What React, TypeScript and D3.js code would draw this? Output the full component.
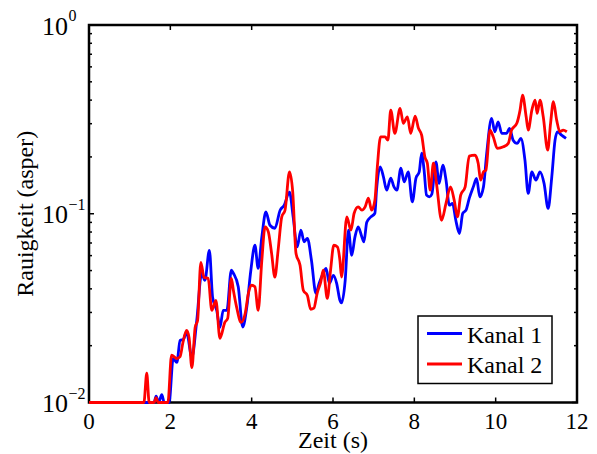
import React from "react";
import * as d3 from "d3";

// Zeit (s), Rauigkeit (asper)
const kanal1: [number, number][] = [
  [0, 0.01], [1.6, 0.01], [1.65, 0.0108], [1.71, 0.01], [1.79, 0.011], [1.85, 0.01], [1.97, 0.01],
  [2.07, 0.0171], [2.16, 0.0163], [2.24, 0.0213], [2.32, 0.0216], [2.4, 0.0235], [2.53, 0.0174],
  [2.65, 0.0272], [2.77, 0.0484], [2.85, 0.0444], [2.96, 0.064], [3.04, 0.036], [3.14, 0.0308],
  [3.22, 0.025], [3.3, 0.0308], [3.39, 0.0308], [3.5, 0.0502], [3.55, 0.0484], [3.67, 0.041],
  [3.78, 0.0251], [3.88, 0.032], [3.98, 0.0502], [4.08, 0.0681], [4.16, 0.0514], [4.25, 0.0754],
  [4.35, 0.1023], [4.45, 0.0869], [4.57, 0.0838], [4.7, 0.1044], [4.8, 0.111], [4.93, 0.1301],
  [5.02, 0.0962], [5.12, 0.0667], [5.21, 0.0818], [5.29, 0.071], [5.37, 0.0741], [5.47, 0.0567],
  [5.58, 0.0379], [5.66, 0.0428], [5.76, 0.0484], [5.83, 0.0514], [5.91, 0.0428], [6.01, 0.0472],
  [6.09, 0.0428], [6.17, 0.0348], [6.21, 0.0337], [6.3, 0.0444], [6.38, 0.0818], [6.46, 0.0602],
  [6.54, 0.0754], [6.62, 0.0852], [6.71, 0.0754], [6.76, 0.071], [6.83, 0.0902], [6.93, 0.0962],
  [7.03, 0.1006], [7.07, 0.1333], [7.16, 0.1772], [7.24, 0.1569], [7.32, 0.1333], [7.42, 0.1544],
  [7.5, 0.1388], [7.57, 0.1333], [7.67, 0.1744], [7.75, 0.1476], [7.85, 0.1667], [7.95, 0.1156],
  [8.04, 0.1544], [8.12, 0.1667], [8.18, 0.2094], [8.24, 0.1701], [8.3, 0.1254], [8.37, 0.1229],
  [8.43, 0.1269], [8.53, 0.1884], [8.61, 0.1448], [8.7, 0.1809], [8.78, 0.1506], [8.86, 0.111],
  [8.94, 0.1134], [9.02, 0.0924], [9.11, 0.0786], [9.19, 0.1004], [9.27, 0.1044], [9.35, 0.1205],
  [9.45, 0.1388], [9.53, 0.1539], [9.61, 0.1229], [9.7, 0.1388], [9.78, 0.2094], [9.9, 0.3201],
  [9.98, 0.2718], [10.06, 0.307], [10.15, 0.2666], [10.27, 0.2666], [10.34, 0.2834], [10.43, 0.2454],
  [10.53, 0.236], [10.62, 0.2508], [10.72, 0.1922], [10.8, 0.1281], [10.89, 0.1667], [10.99, 0.1506],
  [11.09, 0.1667], [11.19, 0.1448], [11.29, 0.1067], [11.38, 0.1569], [11.46, 0.2454], [11.52, 0.2718],
  [11.62, 0.2609], [11.73, 0.2508],
];

const kanal2: [number, number][] = [
  [0, 0.01], [1.35, 0.01], [1.42, 0.0143], [1.48, 0.01], [1.6, 0.01], [1.65, 0.0106], [1.7, 0.01],
  [1.94, 0.01], [2.03, 0.0178], [2.16, 0.0171], [2.24, 0.0175], [2.31, 0.0208], [2.4, 0.0241],
  [2.46, 0.0221], [2.53, 0.0153], [2.61, 0.025], [2.67, 0.0272], [2.75, 0.0553], [2.83, 0.046],
  [2.93, 0.0455], [3.02, 0.0308], [3.12, 0.0348], [3.22, 0.0219], [3.34, 0.0266], [3.41, 0.0279],
  [3.5, 0.0455], [3.55, 0.0393], [3.63, 0.032], [3.74, 0.0266], [3.84, 0.0296], [3.92, 0.0379],
  [4, 0.0418], [4.08, 0.041], [4.16, 0.0308], [4.25, 0.0567], [4.33, 0.0852], [4.41, 0.0802],
  [4.49, 0.0617], [4.57, 0.0462], [4.65, 0.064], [4.74, 0.0962], [4.82, 0.1044], [4.93, 0.1667],
  [5.01, 0.1301], [5.09, 0.0617], [5.19, 0.0533], [5.27, 0.0393], [5.37, 0.0369], [5.45, 0.0312],
  [5.53, 0.0316], [5.61, 0.0379], [5.7, 0.0436], [5.76, 0.0502], [5.86, 0.0356], [5.94, 0.0502],
  [6.02, 0.0681], [6.11, 0.0667], [6.17, 0.0567], [6.21, 0.0462], [6.34, 0.0962], [6.44, 0.0818],
  [6.52, 0.1006], [6.62, 0.1088], [6.71, 0.1044], [6.79, 0.1088], [6.87, 0.1208], [6.95, 0.1044],
  [7.03, 0.118], [7.09, 0.1772], [7.17, 0.2556], [7.28, 0.2556], [7.35, 0.2454], [7.42, 0.354],
  [7.52, 0.2666], [7.65, 0.3619], [7.73, 0.3013], [7.83, 0.3264], [7.91, 0.2666], [8.02, 0.329],
  [8.1, 0.2842], [8.18, 0.2609], [8.26, 0.1995], [8.32, 0.1853], [8.39, 0.1333], [8.47, 0.1853],
  [8.55, 0.1417], [8.67, 0.0924], [8.78, 0.1138], [8.89, 0.1388], [8.98, 0.118], [9.06, 0.0962],
  [9.14, 0.1254], [9.25, 0.1388], [9.35, 0.2019], [9.49, 0.2043], [9.57, 0.1853], [9.63, 0.1506],
  [9.7, 0.1667], [9.76, 0.1701], [9.86, 0.2773], [9.94, 0.2556], [10.04, 0.2219], [10.19, 0.2262],
  [10.31, 0.236], [10.39, 0.2773], [10.52, 0.3013], [10.6, 0.354], [10.66, 0.4252], [10.75, 0.3264],
  [10.8, 0.2773], [10.89, 0.354], [10.97, 0.4], [11.02, 0.3403], [11.09, 0.4], [11.17, 0.3264],
  [11.28, 0.2172], [11.35, 0.3013], [11.42, 0.392], [11.5, 0.3133], [11.58, 0.2718], [11.66, 0.2773],
  [11.75, 0.2718],
];

const xTicks = [0, 2, 4, 6, 8, 10, 12];
const yDecades = [0.01, 0.1, 1];
const yExponents = ["−2", "−1", "0"];
const seriesNames = ["Kanal 1", "Kanal 2"];
const seriesColors = ["#0000ff", "#ff0000"];

const W = 597;
const H = 454;
const margin = { top: 25, right: 20, bottom: 51.5, left: 89 };
const FONT = "Liberation Serif";

const T = (props: any) => (
  <text {...props} fontFamily={FONT} style={{ fontFamily: `"${FONT}"` }} />
);

export default function App() {
  const x = d3.scaleLinear().domain([0, 12]).range([margin.left, W - margin.right]);
  const y = d3.scaleLog().domain([0.01, 1]).range([H - margin.bottom, margin.top]);
  const [x0, x1] = x.range();
  const [y0, y1] = y.range();

  const line = d3
    .line<[number, number]>()
    .x((d) => x(d[0]))
    .y((d) => y(d[1]))
    .curve(d3.curveMonotoneX);

  const minor = y.ticks().filter((v) => !yDecades.some((d) => Math.abs(d - v) < 1e-9));

  return (
    <svg
      width={W}
      height={H}
      style={{ position: "absolute", left: 0, top: 0, background: "#fff" }}
    >
      <defs>
        <clipPath id="plot">
          <rect x={x0} y={y1} width={x1 - x0} height={y0 - y1 + 1.4} />
        </clipPath>
      </defs>

      {/* ticks */}
      <g stroke="#000" strokeWidth={1.5}>
        {xTicks.map((t) => (
          <g key={t}>
            <line x1={x(t)} x2={x(t)} y1={y0} y2={y0 - 5} />
            <line x1={x(t)} x2={x(t)} y1={y1} y2={y1 + 5} />
          </g>
        ))}
        {yDecades.map((v) => (
          <g key={v}>
            <line x1={x0} x2={x0 + 5} y1={y(v)} y2={y(v)} />
            <line x1={x1} x2={x1 - 5} y1={y(v)} y2={y(v)} />
          </g>
        ))}
        {minor.map((v) => (
          <g key={v}>
            <line x1={x0} x2={x0 + 3} y1={y(v)} y2={y(v)} />
            <line x1={x1} x2={x1 - 3} y1={y(v)} y2={y(v)} />
          </g>
        ))}
      </g>

      <rect
        x={x0}
        y={y1}
        width={x1 - x0}
        height={y0 - y1}
        fill="none"
        stroke="#000"
        strokeWidth={2.5}
      />

      <g clipPath="url(#plot)">
        {[kanal1, kanal2].map((s, i) => (
          <path
            key={i}
            d={line(s) ?? ""}
            fill="none"
            stroke={seriesColors[i]}
            strokeWidth={2.8}
            strokeLinejoin="round"
          />
        ))}
      </g>

      {/* tick labels */}
      {xTicks.map((t) => (
        <T key={t} x={x(t)} y={y0 + 26.5} textAnchor="middle" fontSize={23}>
          {t}
        </T>
      ))}
      {yDecades.map((v, i) => (
        <g key={v}>
          <T x={x0 - 21} y={y(v) + 9.5} textAnchor="end" fontSize={26}>
            10
          </T>
          <T x={x0 - 20.5} y={y(v) - 4} fontSize={16}>
            {yExponents[i]}
          </T>
        </g>
      ))}

      <T x={(x0 + x1) / 2} y={448} textAnchor="middle" fontSize={24}>
        Zeit (s)
      </T>
      <T
        transform={`translate(32.5,${(y0 + y1) / 2}) rotate(-90)`}
        textAnchor="middle"
        fontSize={24}
      >
        Rauigkeit (asper)
      </T>

      {/* legend */}
      <rect x={418} y={316} width={134} height={67.5} fill="#fff" stroke="#000" strokeWidth={1.5} />
      {seriesNames.map((n, i) => (
        <g key={n}>
          <line
            x1={427}
            x2={462}
            y1={333.5 + i * 30.5}
            y2={333.5 + i * 30.5}
            stroke={seriesColors[i]}
            strokeWidth={2.8}
          />
          <T x={467} y={342.5 + i * 30.5} fontSize={24}>
            {n}
          </T>
        </g>
      ))}
    </svg>
  );
}
